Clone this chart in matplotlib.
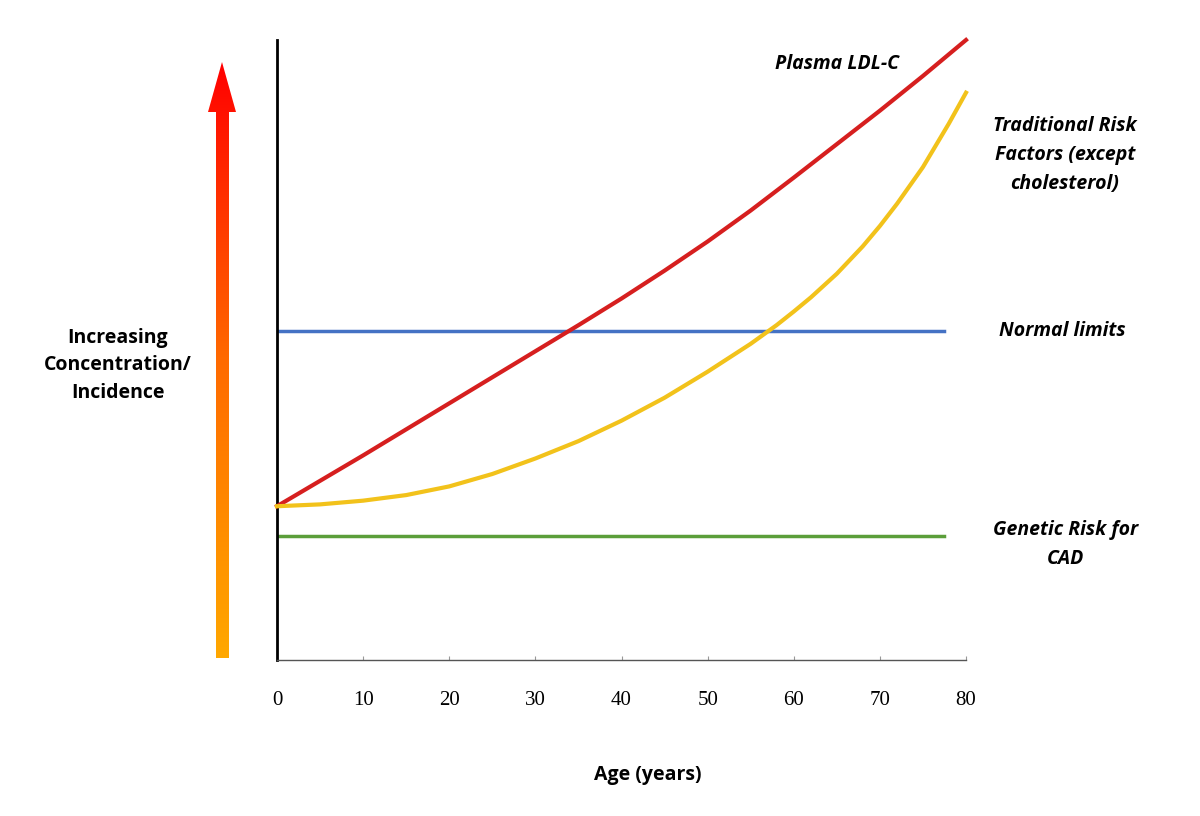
import numpy as np
import matplotlib
matplotlib.use("Agg")
import matplotlib.pyplot as plt
from matplotlib.colors import LinearSegmentedColormap
from matplotlib.patches import Polygon

# data (age in years, relative level 0..100)
ages = [0, 5, 10, 15, 20, 25, 30, 35, 40, 45, 50, 55, 60, 65, 70, 75, 80]
ldl = [24.8, 28.9, 33.0, 37.2, 41.4, 45.6, 49.8, 54.0, 58.3, 62.8, 67.5,
       72.5, 77.8, 83.2, 88.6, 94.2, 100.0]
trad_ages = [0, 5, 10, 15, 20, 25, 30, 35, 40, 45, 50, 55, 58, 60, 62, 65,
             68, 70, 72, 75, 78, 80]
trad = [24.8, 25.1, 25.7, 26.6, 28.0, 30.0, 32.5, 35.3, 38.6, 42.3, 46.5,
        51.0, 54.0, 56.2, 58.5, 62.3, 66.7, 70.0, 73.6, 79.5, 86.5, 91.5]
normal_level = 53.0
genetic_level = 20.0
normal_end = 77.5

fig = plt.figure(figsize=(12, 8.16), dpi=100)
ax = fig.add_axes([277/1200, 1 - 660/816, 689/1200, 620/816])
ax.set_xlim(0, 80)
ax.set_ylim(0, 100)

ax.plot(ages, ldl, color="#d61f1f", lw=3, clip_on=False, zorder=3,
        solid_joinstyle="round")
ax.plot(trad_ages, trad, color="#f2c21b", lw=3, clip_on=False, zorder=3,
        solid_joinstyle="round")
ax.plot([0, normal_end], [normal_level] * 2, color="#4472c4", lw=2.5)
ax.plot([0, normal_end], [genetic_level] * 2, color="#5b9e3a", lw=2.5)

for s in ["top", "right"]:
    ax.spines[s].set_visible(False)
ax.spines["left"].set_linewidth(2)
ax.spines["bottom"].set_color("#555555")
ax.spines["bottom"].set_linewidth(1)
ax.set_yticks([])
ax.set_xticks(list(range(0, 81, 10)))
ax.tick_params(axis="x", length=3, color="#999999", direction="in", pad=22,
               labelsize=15)
for lbl in ax.get_xticklabels():
    lbl.set_fontfamily("Liberation Serif")

lab = dict(fontsize=14, fontweight="bold", style="italic", family="Open Sans")
fig.text(775/1200, 1 - 64/816, "Plasma LDL-C", ha="left", va="center", **lab)
fig.text(1065/1200, 1 - 155/816, "Traditional Risk\nFactors (except\ncholesterol)",
         ha="center", va="center", linespacing=1.6, **lab)
fig.text(1062/1200, 1 - 331/816, "Normal limits", ha="center", va="center", **lab)
fig.text(1066/1200, 1 - 545/816, "Genetic Risk for\nCAD", ha="center", va="center",
         linespacing=1.6, **lab)
fig.text(118/1200, 1 - 365/816, "Increasing\nConcentration/\nIncidence", ha="center",
         va="center", fontsize=14, fontweight="bold", family="Open Sans", linespacing=1.5)
fig.text(648/1200, 1 - 775/816, "Age (years)", ha="center", va="center",
         fontsize=14, fontweight="bold", family="Open Sans")

# gradient arrow on the left
aax = fig.add_axes([0, 0, 1, 1], zorder=-1)
aax.set_xlim(0, 1200)
aax.set_ylim(816, 0)
aax.axis("off")
cmap = LinearSegmentedColormap.from_list("ar", ["#ff0000", "#ff6a00", "#ffa800"])
grad = np.linspace(0, 1, 256).reshape(-1, 1)
im = aax.imshow(grad, cmap=cmap, extent=[200, 245, 658, 62], aspect="auto")
poly = Polygon([[216, 658], [229, 658], [229, 112], [236, 112], [222, 62],
                [208, 112], [216, 112]], closed=True, transform=aax.transData,
               facecolor="none", edgecolor="none")
aax.add_patch(poly)
im.set_clip_path(poly)

fig.savefig("out.png", dpi=100)
